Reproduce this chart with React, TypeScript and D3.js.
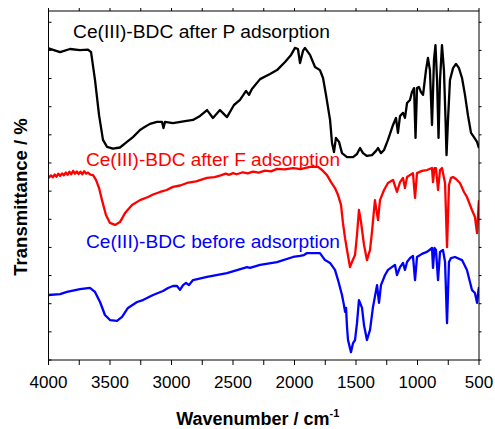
import React from 'react';
import * as d3 from 'd3';

// [wavenumber (cm-1), offset transmittance (a.u.)]
const afterP: [number, number][] = [
  [4000,110.7],[3906,109.4],[3825,110.5],[3744,110.1],[3679,110.3],[3654,109.4],[3622,99.5],[3589,87.0],[3557,78.2],[3524,75.7],
  [3476,75.1],[3419,75.5],[3362,77.5],[3313,79.2],[3256,81.7],[3232,82.4],[3175,83.9],[3118,84.6],[3077,84.6],[3065,82.4],
  [3053,84.6],[2988,84.2],[2890,84.9],[2825,85.3],[2768,86.7],[2711,88.8],[2663,86.0],[2606,88.8],[2549,86.3],[2492,90.6],
  [2443,92.4],[2394,95.6],[2370,94.2],[2346,96.3],[2280,99.8],[2199,101.6],[2142,103.0],[2077,105.9],[2028,108.4],[1996,110.9],
  [1972,110.5],[1955,105.5],[1931,109.8],[1915,110.9],[1874,108.4],[1833,104.1],[1793,103.0],[1768,100.2],[1744,94.2],[1711,85.3],
  [1695,77.1],[1679,73.9],[1663,78.9],[1638,77.5],[1614,73.5],[1573,72.1],[1524,72.1],[1492,73.2],[1467,75.3],[1443,73.5],
  [1411,72.5],[1370,72.8],[1337,74.3],[1321,75.3],[1297,73.5],[1272,74.6],[1240,78.2],[1199,83.5],[1175,86.0],[1159,80.7],
  [1142,86.7],[1118,87.8],[1102,86.0],[1085,91.3],[1061,92.4],[1045,95.2],[1028,96.6],[1016,78.9],[1004,96.6],[988,97.0],
  [972,95.2],[955,94.2],[931,103.0],[915,107.3],[899,103.0],[882,83.5],[866,106.6],[854,111.9],[841,99.5],[829,78.9],
  [817,99.5],[801,111.9],[785,103.0],[772,85.3],[764,72.8],[752,85.3],[736,99.5],[711,103.7],[687,105.2],[663,103.7],
  [638,100.2],[614,94.2],[590,87.0],[565,80.7],[541,79.2],[516,77.5],[500,75.3],
];

const afterF: [number, number][] = [
  [4000,64.7],[3980,65.6],[3965,64.9],[3950,65.9],[3935,65.1],[3920,66.2],[3905,65.4],[3890,66.3],[3875,65.6],[3860,66.6],
  [3845,65.8],[3830,66.9],[3815,66.0],[3800,67.2],[3785,66.2],[3770,67.0],[3755,66.1],[3740,66.9],[3725,66.0],[3710,67.1],
  [3695,66.2],[3679,66.6],[3660,65.9],[3638,65.7],[3614,64.0],[3589,61.1],[3565,56.8],[3533,51.5],[3500,48.7],[3459,48.0],
  [3419,49.0],[3378,52.2],[3321,55.1],[3256,56.8],[3191,57.9],[3150,58.8],[3093,59.7],[3040,60.4],[2988,61.5],[2930,62.0],
  [2874,62.9],[2800,63.5],[2711,64.7],[2650,65.0],[2600,65.6],[2560,66.2],[2530,65.8],[2500,66.4],[2470,66.0],[2420,66.7],
  [2380,66.3],[2337,66.9],[2290,66.6],[2240,67.3],[2190,67.0],[2142,67.9],[2080,67.7],[2012,68.2],[1950,67.8],[1874,68.6],
  [1809,68.6],[1776,67.5],[1736,65.7],[1703,63.2],[1671,61.1],[1646,58.6],[1622,55.1],[1606,48.7],[1589,43.3],[1573,39.1],
  [1549,33.0],[1533,34.8],[1508,37.3],[1492,44.4],[1476,53.3],[1459,49.0],[1435,40.9],[1411,35.5],[1386,39.1],[1370,45.5],
  [1346,56.8],[1321,49.7],[1305,56.8],[1272,60.4],[1240,62.9],[1199,64.0],[1167,59.7],[1142,63.2],[1118,64.7],[1102,61.1],
  [1085,65.0],[1037,66.4],[1020,57.6],[1004,66.4],[964,67.2],[923,67.5],[882,68.2],[874,63.2],[862,68.2],[850,68.2],
  [833,60.4],[817,67.5],[801,68.2],[776,62.9],[760,40.1],[744,62.2],[728,64.7],[711,65.0],[687,64.3],[655,62.9],
  [622,59.7],[598,57.9],[557,53.3],[533,50.8],[516,45.1],[504,54.4],[500,56.8],
];

const before: [number, number][] = [
  [4000,23.1],[3906,23.4],[3850,24.2],[3744,25.2],[3663,25.6],[3622,24.2],[3581,20.6],[3541,16.0],[3500,14.2],[3443,13.9],
  [3402,15.3],[3354,18.5],[3280,20.6],[3232,21.3],[3150,23.1],[3069,24.5],[3028,25.6],[2988,26.3],[2955,26.3],[2931,24.9],
  [2906,26.6],[2882,27.4],[2858,26.6],[2825,28.4],[2711,29.5],[2549,30.9],[2386,33.0],[2362,32.7],[2280,33.8],[2142,34.8],
  [2012,36.6],[1955,37.0],[1923,37.3],[1898,38.0],[1793,38.0],[1752,35.5],[1711,34.5],[1671,32.0],[1646,28.4],[1614,23.1],
  [1598,19.5],[1589,17.1],[1581,18.5],[1573,11.7],[1565,7.1],[1541,2.8],[1524,6.0],[1508,7.1],[1492,13.1],[1476,21.3],
  [1451,18.5],[1435,12.4],[1411,7.1],[1386,10.7],[1362,18.8],[1329,26.6],[1313,20.3],[1297,26.6],[1264,30.2],[1240,32.0],
  [1183,33.8],[1167,30.2],[1142,33.0],[1118,34.5],[1102,32.0],[1085,34.8],[1061,36.2],[1037,37.0],[1020,28.4],[1004,36.6],
  [964,37.7],[923,38.4],[882,39.8],[874,32.7],[862,39.8],[850,39.1],[833,28.4],[817,38.4],[793,39.1],[776,34.8],
  [760,13.1],[744,34.8],[728,36.2],[695,36.6],[638,35.5],[598,32.0],[557,24.9],[533,23.8],[516,20.3],[504,24.9],[500,25.9],
];

const seriesNames = [
  'Ce(III)-BDC after P adsorption',
  'Ce(III)-BDC after F adsorption',
  'Ce(III)-BDC before adsorption',
];
const seriesColors = ['#000000', '#ff0000', '#0000ff'];
const seriesData = [afterP, afterF, before];

const xMajorTicks = [4000, 3500, 3000, 2500, 2000, 1500, 1000, 500];
const xMinorTicks = [3750, 3250, 2750, 2250, 1750, 1250, 750];
const yTicks = d3.range(0, 121, 10);

const W = 495, H = 429;
const L = 48.5, R = 479, T = 11, B = 360;
const FONT = '"Liberation Sans", Arial, Helvetica, sans-serif';

export default function App() {
  const x = d3.scaleLinear().domain([4000, 500]).range([L, R]);
  const y = d3.scaleLinear().domain([0, 124]).range([B, T]);
  const line = d3.line<[number, number]>().x(d => x(d[0])).y(d => y(d[1]));

  const labelPos = [
    { x: 73, y: 37.5, len: 257 },
    { x: 86, y: 165.5, len: 254 },
    { x: 86, y: 247.5, len: 254 },
  ];

  return (
    <svg width={W} height={H} style={{ position: 'absolute', left: 0, top: 0, background: '#fff' }}>
      <rect x={0} y={0} width={W} height={H} fill="#fff" />
      <defs>
        <clipPath id="plotclip">
          <rect x={L} y={T} width={R - L} height={B - T} />
        </clipPath>
      </defs>
      <g clipPath="url(#plotclip)">
        {seriesData.map((d, i) => (
          <path key={i} d={line(d) || ''} fill="none" stroke={seriesColors[i]} strokeWidth={2.3} strokeLinejoin="round" />
        ))}
      </g>
      {/* frame */}
      <rect x={L} y={T} width={R - L} height={B - T} fill="none" stroke="#000" strokeWidth={1} />
      {/* bottom ticks */}
      {xMajorTicks.map(t => (
        <g key={'bm' + t}>
          <line x1={x(t)} x2={x(t)} y1={B} y2={B + 5} stroke="#000" strokeWidth={1} />
          <line x1={x(t)} x2={x(t)} y1={T} y2={T - 3} stroke="#000" strokeWidth={1} />
          <text x={x(t)} y={388} textAnchor="middle" fontFamily={FONT} fontSize={17} fill="#000">{t}</text>
        </g>
      ))}
      {xMinorTicks.map(t => (
        <g key={'bn' + t}>
          <line x1={x(t)} x2={x(t)} y1={B} y2={B + 5} stroke="#000" strokeWidth={1} />
          <line x1={x(t)} x2={x(t)} y1={T} y2={T - 3} stroke="#000" strokeWidth={1} />
        </g>
      ))}
      {yTicks.map(t => (
        <g key={'y' + t}>
          <line x1={L} x2={L + 3} y1={y(t)} y2={y(t)} stroke="#000" strokeWidth={1} />
          <line x1={R} x2={R + 2.5} y1={y(t)} y2={y(t)} stroke="#000" strokeWidth={1} />
        </g>
      ))}
      {/* series labels */}
      {seriesNames.map((n, i) => (
        <text key={n} x={labelPos[i].x} y={labelPos[i].y} fontFamily={FONT} fontSize={17.5}
          fill={seriesColors[i]} textLength={labelPos[i].len} lengthAdjust="spacingAndGlyphs">{n}</text>
      ))}
      {/* axis titles */}
      <text x={(L + R) / 2 - 6} y={425} textAnchor="middle" fontFamily={FONT} fontSize={18} fontWeight="bold" fill="#000">
        Wavenumber / cm<tspan fontSize={11} dy={-8}>-1</tspan>
      </text>
      <text transform="translate(27,197) rotate(-90)" textAnchor="middle" fontFamily={FONT} fontSize={18.5} fontWeight="bold" fill="#000">
        Transmittance / %
      </text>
    </svg>
  );
}
